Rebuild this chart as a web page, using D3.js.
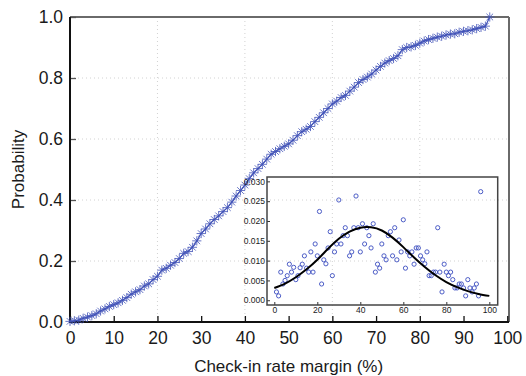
<!DOCTYPE html>
<html>
<head>
<meta charset="utf-8">
<script src="https://cdn.jsdelivr.net/npm/d3@7"></script>
<style>
  body { margin: 0; background: #fff; }
  text { font-family: "Liberation Sans", Arial, sans-serif; fill: #1a1a1a; }
</style>
</head>
<body>
<script>
// cumulative probability at each check-in rate margin (0..96 %)
const cdfX = d3.range(0, 97);
const cdfY = [
  0.002, 0.004, 0.006, 0.012, 0.016, 0.021, 0.027, 0.036, 0.043, 0.051,
  0.057, 0.063, 0.071, 0.080, 0.091, 0.099, 0.106, 0.118, 0.125, 0.139,
  0.150, 0.170, 0.176, 0.186, 0.195, 0.208, 0.225, 0.231, 0.245, 0.266,
  0.290, 0.305, 0.322, 0.336, 0.348, 0.362, 0.375, 0.393, 0.413, 0.431,
  0.449, 0.470, 0.489, 0.503, 0.517, 0.534, 0.550, 0.559, 0.568, 0.576,
  0.584, 0.596, 0.611, 0.624, 0.632, 0.641, 0.657, 0.671, 0.686, 0.700,
  0.715, 0.724, 0.736, 0.743, 0.757, 0.770, 0.785, 0.795, 0.803, 0.813,
  0.826, 0.838, 0.849, 0.857, 0.864, 0.873, 0.893, 0.900, 0.902, 0.907,
  0.914, 0.921, 0.926, 0.930, 0.934, 0.937, 0.941, 0.944, 0.945, 0.950,
  0.953, 0.955, 0.958, 0.962, 0.966, 0.970, 1.000
];

// inset: probability density per margin value
const pdfX = d3.range(1, 97);
const pdfY = [
  0.0021, 0.0011, 0.0071, 0.0041, 0.0050, 0.0062, 0.0091, 0.0071, 0.0083, 0.0052,
  0.0062, 0.0082, 0.0091, 0.0112, 0.0081, 0.0071, 0.0122, 0.0071, 0.0142, 0.0112,
  0.0224, 0.0041, 0.0102, 0.0092, 0.0132, 0.0173, 0.0062, 0.0122, 0.0142, 0.0253,
  0.0142, 0.0163, 0.0183, 0.0163, 0.0112, 0.0122, 0.0183, 0.0263, 0.0183, 0.0122,
  0.0193, 0.0142, 0.0183, 0.0163, 0.0132, 0.0193, 0.0071, 0.0091, 0.0081, 0.0142,
  0.0112, 0.0102, 0.0163, 0.0173, 0.0112, 0.0183, 0.0102, 0.0152, 0.0122, 0.0203,
  0.0081, 0.0122, 0.0112, 0.0122, 0.0091, 0.0132, 0.0132, 0.0112, 0.0102, 0.0092,
  0.0122, 0.0062, 0.0062, 0.0071, 0.0071, 0.0183, 0.0071, 0.0021, 0.0091, 0.0071,
  0.0062, 0.0071, 0.0052, 0.0031, 0.0031, 0.0041, 0.0041, 0.0031, 0.0011, 0.0052,
  0.0031, 0.0021, 0.0031, 0.0041, 0.0011, 0.0274
];

// fitted curve in the inset
const fitX = [0, 5, 10, 15, 20, 25, 30, 35, 40, 45, 50, 55, 60, 65, 70, 75, 80, 85, 90, 95, 100];
const fitY = [0.0031, 0.0042, 0.0058, 0.0078, 0.0102, 0.0130, 0.0155, 0.0173, 0.0183, 0.0184,
  0.0176, 0.0158, 0.0134, 0.0108, 0.0084, 0.0063, 0.0046, 0.0033, 0.0023, 0.0016, 0.0011];

const xTicks = [0, 10, 20, 30, 40, 50, 60, 70, 80, 90, 100];
const yTicks = [0, 0.2, 0.4, 0.6, 0.8, 1.0];
const gridX = [20, 40, 60, 80];
const gridY = [0.2, 0.4, 0.6, 0.8];
const insetXTicks = [0, 20, 40, 60, 80, 100];
const insetYTicks = [0, 0.005, 0.01, 0.015, 0.02, 0.025, 0.03];

const W = 526, H = 376;
const blue = "#4152b8";

const svg = d3.select("body").append("svg")
  .attr("width", W).attr("height", H);

const x = d3.scaleLinear().domain([0, 100.4]).range([70, 509]);
const y = d3.scaleLinear().domain([0, 1]).range([322, 17]);

// grid
svg.append("g").selectAll("line").data(gridX).enter().append("line")
  .attr("x1", d => x(d)).attr("x2", d => x(d))
  .attr("y1", y(1)).attr("y2", y(0))
  .attr("stroke", "#d2d2d2").attr("stroke-dasharray", "1,3");
svg.append("g").selectAll("line").data(gridY).enter().append("line")
  .attr("x1", x(0)).attr("x2", x(100.4))
  .attr("y1", d => y(d)).attr("y2", d => y(d))
  .attr("stroke", "#d2d2d2").attr("stroke-dasharray", "1,3");

// box top / right
svg.append("line").attr("x1", x(0)).attr("x2", x(100.4)).attr("y1", y(1)).attr("y2", y(1))
  .attr("stroke", "#6a6a6a").attr("stroke-width", 2);
svg.append("line").attr("x1", x(100.4)).attr("x2", x(100.4)).attr("y1", y(1)).attr("y2", y(0))
  .attr("stroke", "#6a6a6a").attr("stroke-width", 2);

// axes
const xAxis = svg.append("g")
  .attr("transform", `translate(0, ${y(0)})`)
  .call(d3.axisBottom(x).tickValues(xTicks).tickSize(-6).tickPadding(9).tickFormat(d3.format("d")));
xAxis.select(".domain").remove();
xAxis.selectAll(".tick line").attr("stroke", "#111").attr("stroke-width", 1.3);
xAxis.selectAll("text").style("font-size", "17.5px").attr("dy", "0.72em");

const yAxis = svg.append("g")
  .attr("transform", `translate(${x(0)}, 0)`)
  .call(d3.axisLeft(y).tickValues(yTicks).tickSize(-6).tickPadding(7).tickFormat(d3.format(".1f")));
yAxis.select(".domain").remove();
yAxis.selectAll(".tick line").attr("stroke", "#555").attr("stroke-width", 1.3);
yAxis.selectAll("text").style("font-size", "17.5px");

svg.append("line").attr("x1", x(0)).attr("x2", x(0)).attr("y1", y(1)).attr("y2", y(0) + 1)
  .attr("stroke", "#111").attr("stroke-width", 2);
svg.append("line").attr("x1", x(0) - 1).attr("x2", x(100.4)).attr("y1", y(0)).attr("y2", y(0))
  .attr("stroke", "#111").attr("stroke-width", 2);

svg.append("text").attr("x", (x(0) + x(100)) / 2).attr("y", 372)
  .attr("text-anchor", "middle").style("font-size", "17px")
  .text("Check-in rate margin (%)");
svg.append("text").attr("transform", `translate(24, ${(y(0) + y(1)) / 2}) rotate(-90)`)
  .attr("text-anchor", "middle").style("font-size", "17px")
  .text("Probability");

// main series: line + asterisk markers
const cdf = cdfX.map((d, i) => ({ x: d, y: cdfY[i] }));
svg.append("path").datum(cdf)
  .attr("fill", "none").attr("stroke", blue).attr("stroke-width", 1.2)
  .attr("d", d3.line().x(d => x(d.x)).y(d => y(d.y)));

const star = svg.append("g").attr("stroke", blue).attr("stroke-width", 1).attr("stroke-opacity", 0.8)
  .selectAll("g").data(cdf).enter().append("g")
  .attr("transform", d => `translate(${x(d.x)}, ${y(d.y)})`);
const s = 4.6;
star.append("line").attr("x1", -s).attr("x2", s).attr("y1", 0).attr("y2", 0);
star.append("line").attr("x1", 0).attr("x2", 0).attr("y1", -s).attr("y2", s);
star.append("line").attr("x1", -s * 0.72).attr("x2", s * 0.72).attr("y1", -s * 0.72).attr("y2", s * 0.72);
star.append("line").attr("x1", -s * 0.72).attr("x2", s * 0.72).attr("y1", s * 0.72).attr("y2", -s * 0.72);

// ---- inset ----
const ix = d3.scaleLinear().domain([-3.4, 103.9]).range([267, 497.7]);
const iy = d3.scaleLinear().domain([-0.0012, 0.0311]).range([305, 177]);

const ixAxis = svg.append("g")
  .attr("transform", `translate(0, 305)`)
  .call(d3.axisBottom(ix).tickValues(insetXTicks).tickSize(-3).tickPadding(2));
ixAxis.select(".domain").remove();
ixAxis.selectAll(".tick line").attr("stroke", "#333");
ixAxis.selectAll("text").style("font-size", "8.5px").attr("dy", "0.72em");

const iyAxis = svg.append("g")
  .attr("transform", `translate(267, 0)`)
  .call(d3.axisLeft(iy).tickValues(insetYTicks).tickSize(-3).tickPadding(2).tickFormat(d3.format(".3f")));
iyAxis.select(".domain").remove();
iyAxis.selectAll(".tick line").attr("stroke", "#333");
iyAxis.selectAll("text").style("font-size", "8.5px");

svg.append("rect").attr("x", 267).attr("y", 177).attr("width", 497.7 - 267).attr("height", 305 - 177)
  .attr("fill", "none").attr("stroke", "#444").attr("stroke-width", 1.5);

svg.append("g").selectAll("circle").data(pdfX).enter().append("circle")
  .attr("cx", d => ix(d)).attr("cy", (d, i) => iy(pdfY[i])).attr("r", 2.1)
  .attr("fill", "none").attr("stroke", "#3a4cc0").attr("stroke-width", 0.9);

svg.append("path").datum(fitX)
  .attr("fill", "none").attr("stroke", "#000").attr("stroke-width", 2)
  .attr("d", d3.line().x(d => ix(d)).y((d, i) => iy(fitY[i])).curve(d3.curveNatural));
</script>
</body>
</html>
